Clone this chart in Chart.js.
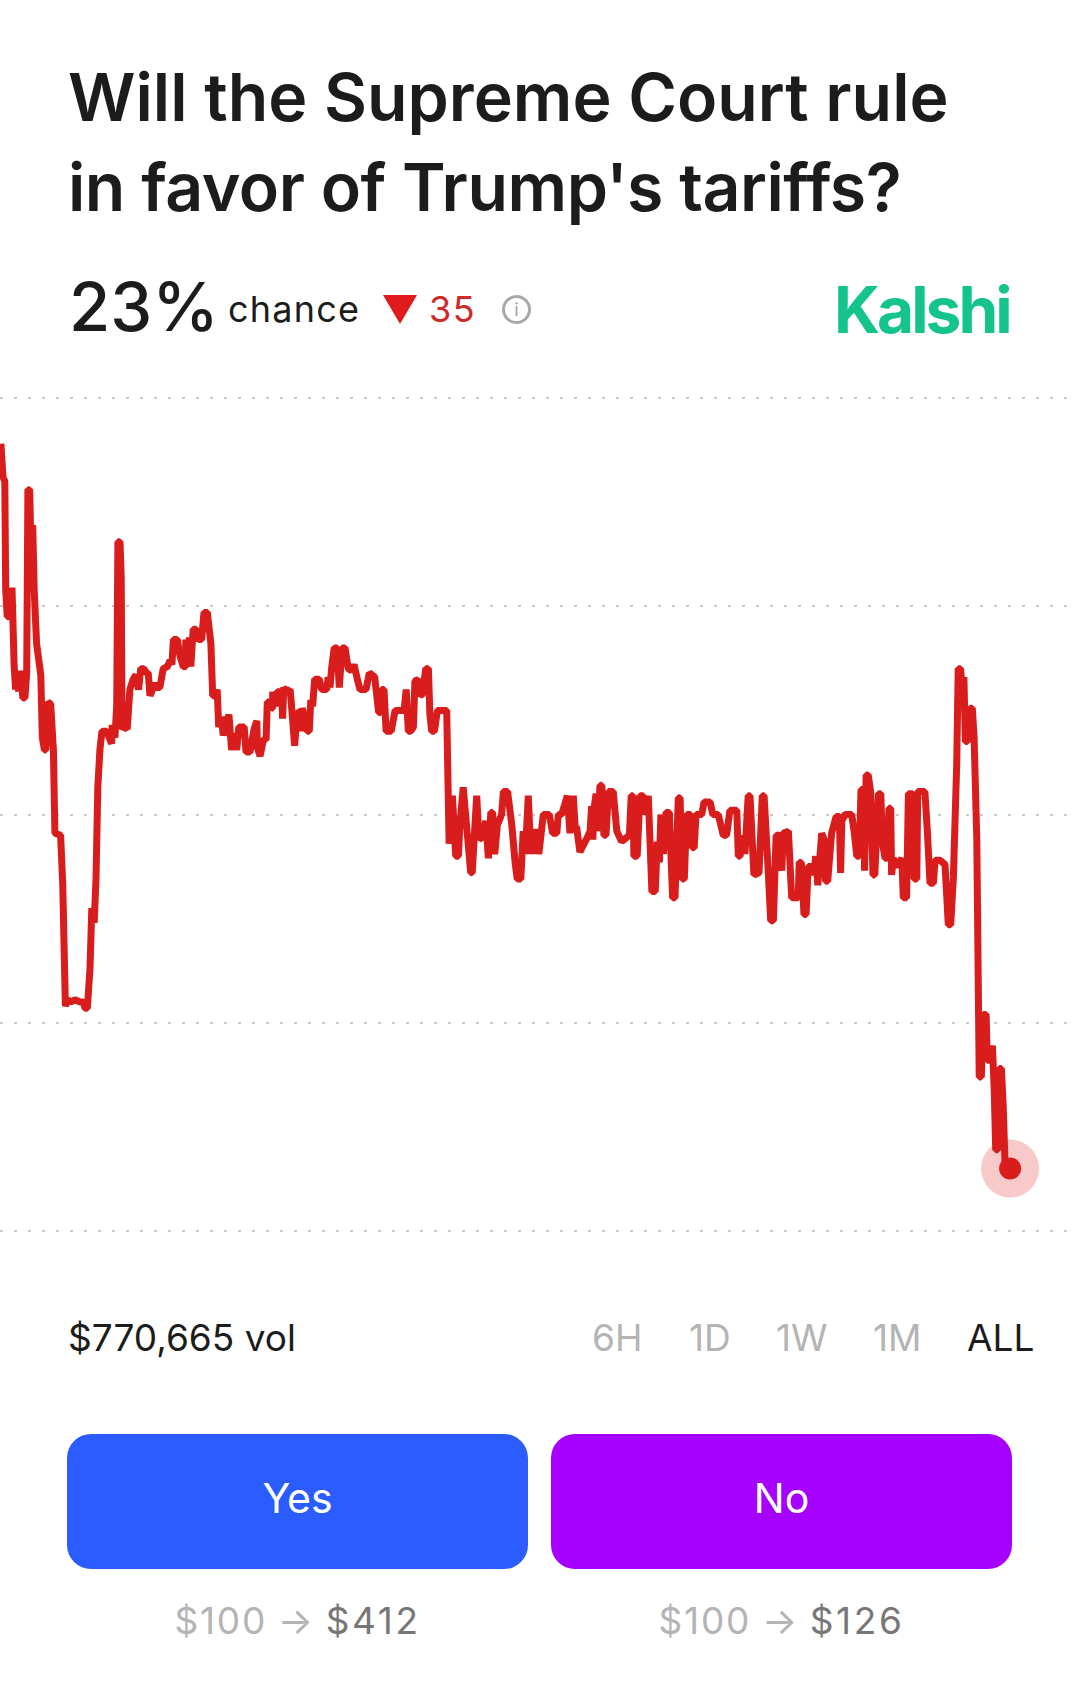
<!DOCTYPE html>
<html>
<head>
    <meta charset="utf-8">
    <title>Will the Supreme Court rule in favor of Trump's tariffs?</title>
    <script src="https://cdn.jsdelivr.net/npm/chart.js"></script>
    <style>
        html, body { margin: 0; background: #fff; }
        body {
            position: relative;
            width: 1077px;
            height: 1698px;
            overflow: hidden;
            font-family: Inter, "Noto Sans", sans-serif;
            color: #1c1c1c;
        }
        .abs { position: absolute; white-space: nowrap; }
        #title { left: 68px; top: 53px; font-size: 66.2px; font-weight: 600; line-height: 89.5px; }
        #title span { letter-spacing: -0.45px; }
        #pct { left: 69px; top: 267px; font-size: 67px; font-weight: 500; line-height: 80px; }
        #chance { left: 228px; top: 285px; font-size: 36px; line-height: 48px; letter-spacing: 1.2px; }
        #tri { left: 383px; top: 295px; width: 34px; height: 29px; background: #df1b1b; clip-path: polygon(0 0, 100% 0, 50% 100%); }
        #delta { left: 429px; top: 285px; font-size: 36px; line-height: 48px; color: #cf2a2a; letter-spacing: 1.4px; }
        #info { left: 502px; top: 295px; width: 23px; height: 23px; border: 3px solid #a8a8a8; border-radius: 50%; color: #a0a0a0; font-size: 18px; line-height: 23px; text-align: center; }
        #brand { left: 834px; top: 270px; font-size: 64px; font-weight: 700; line-height: 80px; color: #14c48c; letter-spacing: -3px; }
        #chartWrap { left: 0; top: 388px; width: 1077px; height: 853px; }
        #vol { left: 68px; top: 1315px; font-size: 37px; line-height: 46px; }
        .range { top: 1315px; font-size: 37px; line-height: 46px; color: #b4b4b4; }
        .btn { top: 1434px; width: 461px; height: 135px; border-radius: 24px; color: #fff; font-size: 41px; line-height: 128px; text-align: center; }
        .payout { top: 1598px; width: 461px; text-align: center; font-size: 37px; line-height: 46px; color: #b4b4b4; letter-spacing: 1.8px; word-spacing: -1.5px; }
        .payout b { font-weight: 400; color: #777; letter-spacing: 2.6px; }
    </style>
</head>
<body>
    <div class="abs" id="title">Will the Supreme Court rule<br><span>in favor of Trump's tariffs?</span></div>
    <div class="abs" id="pct">23%</div>
    <div class="abs" id="chance">chance</div>
    <div class="abs" id="tri"></div>
    <div class="abs" id="delta">35</div>
    <div class="abs" id="info">i</div>
    <div class="abs" id="brand">Kalshi</div>

    <div class="abs" id="chartWrap"><canvas id="priceChart"></canvas></div>

    <div class="abs" id="vol">$770,665 vol</div>
    <div class="abs range" style="left:592px">6H</div>
    <div class="abs range" style="left:689px">1D</div>
    <div class="abs range" style="left:776px">1W</div>
    <div class="abs range" style="left:873px">1M</div>
    <div class="abs range" style="left:967px;color:#1c1c1c">ALL</div>

    <div class="abs btn" style="left:67px;background:#2a5cff">Yes</div>
    <div class="abs btn" style="left:551px;background:#a600ff">No</div>
    <div class="abs payout" style="left:67px">$100 → <b>$412</b></div>
    <div class="abs payout" style="left:551px">$100 → <b>$126</b></div>

    <script>
        // Time along the market's life, chance in percent
        const times = [
            0.3, 1, 1.6, 1.9, 2.4, 3.3, 4, 4.7, 5.2, 5.8, 6.2, 6.9, 7.6, 8.3, 8.9, 9.3, 9.9, 10.3, 10.9, 11.4,
            12.2, 13.6, 14.1, 14.8, 15.3, 15.9, 16.9, 17.8, 18.3, 20.2, 20.9, 21.8, 22.6, 23.6, 25, 26.7, 27.8, 28.3, 29.1, 30,
            30.6, 31.4, 32, 32.6, 33.3, 34, 35.6, 37.2, 37.4, 38.3, 38.9, 39.3, 40, 40.4, 40.7, 41.3, 42.4, 43.3, 44.4, 45.3,
            46.2, 46.9, 48, 48.7, 49.4, 50, 51.7, 52.2, 53.3, 54.4, 55.8, 56.7, 57.3, 57.8, 59.1, 60, 61.1, 61.7, 61.9, 62.2,
            63.1, 63.6, 64.4, 65.3, 66.2, 67.2, 68, 69.1, 70.3, 70.9, 71.7, 72.4, 72.9, 73.8, 74.4, 75.6, 76.3, 77.2, 78.2, 78.9,
            79.6, 81.4, 82, 83.3, 84.7, 85.6, 85.8, 86.7, 87.8, 88.7, 89.1, 90.2, 90.7, 90.9, 91.8, 92.4, 93.9, 94.2, 94.6, 95.6,
            96.7, 97.3, 98.2, 99.1, 99.8, 100.2, 100.7, 101.7, 102.4, 103.1, 103.6, 104.2, 104.9, 106.4, 107.2, 108.9, 109.4, 110, 110.6, 111.4,
            112.4, 113.1, 114, 115, 116.1, 117.2, 118, 119.1, 120, 122, 123.1, 124.9, 126.2, 126.9, 127.2, 128, 128.7, 130.4, 131.7, 133.6,
            134.7, 135.4, 136.1, 136.9, 137.8, 138.3, 139.4, 140, 140.9, 141.9, 142.8, 143.3, 143.9, 144.8, 145.8, 148.9, 149.7, 150.8, 151.9, 152.8,
            153.3, 154.4, 155.2, 156.9, 157.4, 158.9, 159.7, 161.3, 161.9, 162.8, 163.6, 164.2, 164.9, 165.8, 167.2, 167.8, 169.2, 170.6, 171.7, 172.4,
            173.6, 174.4, 175.1, 176.1, 176.9, 177.6, 178.3, 178.9, 179.6, 181.1, 183.1, 184.2, 185.6, 186.1, 187.2, 188.3, 189.1, 190, 191.1, 191.7,
            192.2, 193.3, 196.1, 196.7, 197.2, 197.6, 198.1, 198.7, 199.2, 200, 200.6, 201.3, 202, 202.8, 204.4, 205.6, 207.2, 209.8, 210.4, 211,
            211.3, 212.4, 213.3, 214.4, 215, 216.1, 217.3, 218.4, 219.1, 219.8, 220.3, 221.1, 222, 223.1, 224.2, 225, 226.1, 226.7, 227.4, 228.1,
            228.9, 230.2, 230.8, 231.4, 232, 233.9, 234.7, 236.7, 237.6, 239.4, 241.1, 242.2, 243.3, 245.6, 246.1, 246.7, 247.6, 248.3, 249.4, 250,
            251.3, 253, 254.1, 254.7, 256.1, 256.9, 257.8, 258.7, 260, 260.6, 261.1, 262.8, 263.9, 266.1, 266.4, 267.1, 268, 268.7, 269.4, 270.6,
            271.3, 271.9, 272.6, 273.9, 274.7, 275.2, 275.9, 277.2, 278.7, 279.8, 280.2, 280.6, 281.7, 283.9, 284.7, 285.6, 286.4, 287, 287.8, 288.2,
            288.7, 289.4, 290.2, 291, 291.6, 292.8, 293.6, 294.1, 295, 295.8, 296.3, 296.9, 297.2, 297.8, 298.9, 300.6, 301.1, 302.2, 302.8, 304.2,
            304.7, 305.6, 305.9, 308.3, 309.2, 310, 311.1, 311.7, 313.3, 315, 316.1, 316.9, 317.8, 318.9, 319.4, 320.2, 320.9, 321.3, 321.8, 322.4,
            323.3, 324.1, 324.7, 325.6, 326.2, 326.4, 327.1, 327.8, 328.7, 329.1, 330, 330.8, 331.4, 331.9, 332.6, 333.1, 333.8, 334.4, 335, 335.2,
            336.7
        ];
        const chance = [
            57.8, 56.2, 56, 50.8, 49.5, 49.5, 50.9, 47.2, 46, 46.9, 45.9, 46.9, 45.6, 45.6, 46.8, 55.6, 55.6, 52.8, 53.9, 50.8,
            48.2, 46.7, 43.7, 43.1, 43.1, 45.4, 45.3, 43.1, 39.1, 39, 36.7, 30.8, 31.1, 31, 31.1, 31, 31, 30.7, 30.7, 32.6,
            35.5, 34.8, 36.9, 41.3, 43.1, 44, 44, 43.4, 44.3, 43.7, 45.2, 53.1, 53.1, 51.4, 44.1, 44.2, 44.1, 46, 46.5, 46.7,
            46, 47, 47, 46.8, 46.8, 45.7, 46.3, 46.1, 46.1, 47, 47.1, 47.4, 47.2, 48.4, 48.4, 47.6, 47.1, 47.1, 48.4, 47.1,
            48.5, 47.1, 48.9, 48.9, 48.4, 48.4, 49.7, 49.7, 48.2, 45.7, 45.7, 46, 44.2, 44.7, 43.8, 44.4, 44.8, 43.1, 43.9, 43.1,
            44.2, 44.2, 43, 43, 44.1, 44.5, 43.2, 42.8, 43.6, 43.6, 45.4, 45.4, 45.1, 45.9, 45.2, 45.9, 45.9, 44.6, 46.1, 45.9,
            46, 45, 43.3, 44.9, 44.9, 44, 45.1, 44.6, 44, 44, 45.5, 45.2, 46.5, 46.5, 46, 46, 46.6, 46.1, 47.1, 48,
            48, 46.1, 48, 48, 47, 46.9, 47.2, 46.5, 46, 46, 46.8, 46.6, 44.9, 44.9, 46, 46, 44, 44, 45, 45,
            45, 46, 44, 44, 44.2, 46.4, 46.5, 45.7, 45.8, 47, 47, 44.8, 44, 44, 45, 45, 38.6, 40.9, 38, 38,
            39.5, 41.3, 40, 37.2, 37.2, 40.9, 38.8, 39, 39.7, 37.9, 40.1, 40.1, 38.1, 39.5, 40, 41.1, 41.1, 39.5, 37.7, 36.9,
            36.9, 39.2, 38.1, 40.9, 38.1, 39.3, 38.1, 39.3, 38.1, 40, 40, 39.1, 39.1, 40, 40, 40.5, 40.9, 39.1, 40.9, 39.4,
            39.4, 38.2, 39, 39.2, 40.4, 38.8, 40.4, 41, 39.2, 41.4, 41.4, 39, 39, 41.1, 41.1, 39.2, 38.7, 39, 40.9, 40.9,
            38, 38, 40.9, 40.9, 40, 40.9, 36.3, 36.3, 38.7, 37.7, 40, 38.1, 40.1, 40.1, 36, 36, 40.8, 40.8, 36.9, 36.9,
            40, 40, 38.4, 38.4, 40, 40, 40.6, 40.6, 40, 40, 39, 39, 40.2, 40.2, 38, 38, 39, 38.1, 40.9, 40.9,
            37.1, 37.2, 40.9, 40.9, 37.2, 34.9, 34.9, 39, 39, 37.3, 39.1, 39.2, 36, 36, 37.7, 37.7, 35.2, 35.2, 37.5, 37.5,
            37.1, 38, 36.6, 39.1, 38.8, 36.8, 36.8, 39.1, 39.9, 39.9, 37.2, 39.7, 40, 40, 39.2, 38, 38, 41.2, 41.2, 37.3,
            41.9, 41.9, 41.1, 37.1, 37.1, 41, 41, 38.7, 37.9, 37.9, 40.3, 40.3, 37.1, 37.9, 37.5, 37.9, 36, 36, 41, 41,
            36.9, 36.9, 41.1, 41.1, 39, 36.7, 36.7, 37.8, 37.8, 37.6, 34.7, 34.7, 37, 42.4, 47, 47, 45.8, 46.6, 43.5, 43.5,
            45.1, 45.1, 43.7, 38.8, 30.3, 27.4, 27.4, 30.4, 30.4, 28.2, 28.2, 28.9, 26.8, 23.9, 23.9, 27.8, 27.8, 26, 23.3, 23,
            23
        ];
        const gridTicks = [20, 30, 40, 50, 60];
        const lineRed = '#d91c1c';

        const series = times.map((t, i) => ({ x: t, y: chance[i] }));
        const lastPoint = [series[series.length - 1]];

        new Chart(document.getElementById('priceChart'), {
            type: 'line',
            data: {
                datasets: [
                    // solid dot on top of the translucent halo
                    { data: lastPoint, pointRadius: 11, pointBackgroundColor: lineRed, pointBorderWidth: 0, showLine: false, order: 0 },
                    { data: series, borderColor: lineRed, borderWidth: 7, borderJoinStyle: 'bevel', pointRadius: 0, tension: 0, order: 1 },
                    { data: lastPoint, pointRadius: 29, pointBackgroundColor: 'rgba(221,28,28,0.24)', pointBorderWidth: 0, showLine: false, order: 2 }
                ]
            },
            options: {
                responsive: true,
                maintainAspectRatio: false,
                animation: false,
                layout: { autoPadding: false, padding: { top: 10, bottom: 10 } },
                plugins: { legend: { display: false }, tooltip: { enabled: false } },
                scales: {
                    x: { type: 'linear', min: 0, max: 359, display: false },
                    y: {
                        min: 20,
                        max: 60,
                        afterBuildTicks: scale => { scale.ticks = gridTicks.map(value => ({ value })); },
                        ticks: { display: false },
                        border: { display: false, dash: [3, 11] },
                        grid: { color: '#cacaca', lineWidth: 2, drawTicks: false }
                    }
                }
            }
        });
    </script>
</body>
</html>
